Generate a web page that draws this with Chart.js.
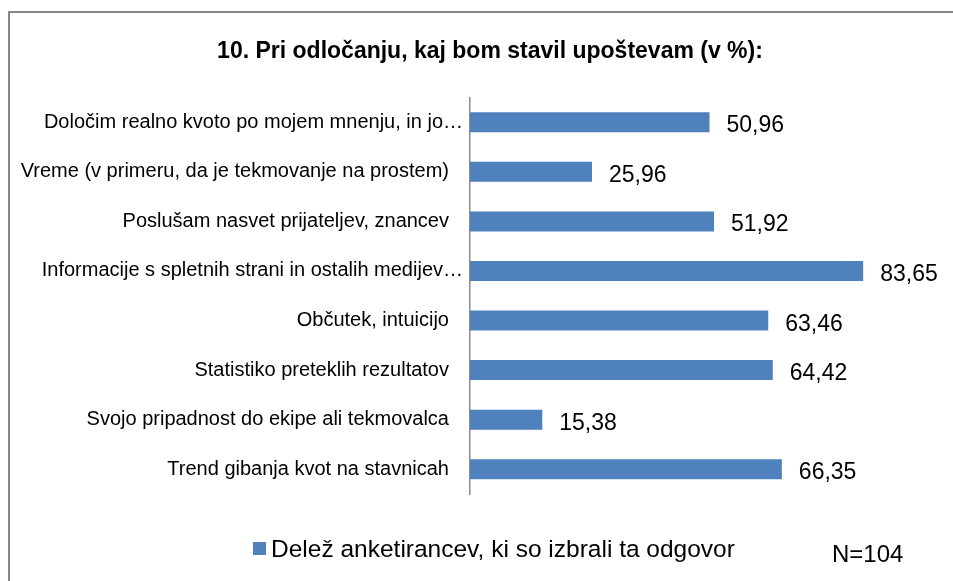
<!DOCTYPE html>
<html>
<head>
<meta charset="utf-8">
<title>Pri odločanju, kaj bom stavil upoštevam</title>
<script src="https://cdn.jsdelivr.net/npm/chart.js@4.4.1/dist/chart.umd.min.js"></script>
<style>
    html, body { margin: 0; padding: 0; background: #ffffff; }
    #chartBox { position: relative; width: 953px; height: 581px; }
</style>
</head>
<body>
<div id="chartBox">
    <canvas id="answersChart" width="953" height="581"></canvas>
</div>
<script>
// Chart data
const chartTitle = '10. Pri odločanju, kaj bom stavil upoštevam (v %):';
const answers = [
    'Določim realno kvoto po mojem mnenju, in jo…',
    'Vreme (v primeru, da je tekmovanje na prostem)',
    'Poslušam nasvet prijateljev, znancev',
    'Informacije s spletnih strani in ostalih medijev…',
    'Občutek, intuicijo',
    'Statistiko preteklih rezultatov',
    'Svojo pripadnost do ekipe ali tekmovalca',
    'Trend gibanja kvot na stavnicah'
];
const shares = [50.96, 25.96, 51.92, 83.65, 63.46, 64.42, 15.38, 66.35];
const seriesName = 'Delež anketirancev, ki so izbrali ta odgovor';
const sampleNote = 'N=104';

const FONT = '"Liberation Sans", Arial, sans-serif';
const BAR_COLOR = '#4F81BD';

// Format like the original: two decimals with a comma
function formatShare(v) {
    return v.toFixed(2).replace('.', ',');
}

// Excel lets the cut-off labels run a bit closer to the axis,
// so the full ones get a little trailing space
function axisLabel(value, index) {
    const text = answers[index];
    return text.endsWith('…') ? text : text + '\u2002\u2009';
}

// Frame, title, legend and N note drawn around the chart
const decorPlugin = {
    id: 'decor',
    beforeDraw(chart) {
        const ctx = chart.ctx;
        ctx.save();
        ctx.strokeStyle = '#878787';
        ctx.lineWidth = 2;
        ctx.strokeRect(9, 12, 1000, 1000);
        ctx.restore();
    },
    afterDraw(chart) {
        const ctx = chart.ctx;
        ctx.save();
        ctx.fillStyle = '#000000';
        ctx.font = 'bold 23px ' + FONT;
        ctx.textAlign = 'center';
        ctx.textBaseline = 'alphabetic';
        ctx.fillText(chartTitle, 490, 58);

        // legend
        ctx.fillStyle = BAR_COLOR;
        ctx.fillRect(253, 542, 13, 13);
        ctx.fillStyle = '#000000';
        ctx.font = '24.5px ' + FONT;
        ctx.textAlign = 'left';
        ctx.fillText(seriesName, 271, 557);
        ctx.font = '24px ' + FONT;
        ctx.fillText(sampleNote, 832, 562);
        ctx.restore();
    }
};

// Value labels right of each bar
const valueLabels = {
    id: 'valueLabels',
    afterDatasetsDraw(chart) {
        const ctx = chart.ctx;
        const meta = chart.getDatasetMeta(0);
        ctx.save();
        ctx.fillStyle = '#000000';
        ctx.font = '23px ' + FONT;
        ctx.textAlign = 'left';
        ctx.textBaseline = 'alphabetic';
        meta.data.forEach((bar, i) => {
            ctx.fillText(formatShare(shares[i]), bar.x + 17, bar.y + 10);
        });
        ctx.restore();
    }
};

function drawChart() {
    const ctx = document.getElementById('answersChart').getContext('2d');
    new Chart(ctx, {
        type: 'bar',
        data: {
            labels: answers,
            datasets: [{
                label: seriesName,
                data: shares,
                backgroundColor: BAR_COLOR,
                borderWidth: 0,
                categoryPercentage: 1,
                barPercentage: 0.404
            }]
        },
        options: {
            indexAxis: 'y',
            responsive: false,
            animation: false,
            events: [],
            layout: { padding: { left: 0, right: 13, top: 97.5, bottom: 87 } },
            plugins: {
                legend: { display: false },
                title: { display: false },
                tooltip: { enabled: false }
            },
            scales: {
                x: { display: false, min: 0, max: 100 },
                y: {
                    grid: { display: false, drawTicks: false },
                    border: { display: true, color: '#8c8c8c', width: 1.5 },
                    ticks: {
                        color: '#000000',
                        padding: 7,
                        font: { family: FONT, size: 20 },
                        callback: axisLabel
                    },
                    afterFit(scale) { scale.width = 470; }
                }
            }
        },
        plugins: [decorPlugin, valueLabels]
    });
}

window.onload = drawChart;
</script>
</body>
</html>
